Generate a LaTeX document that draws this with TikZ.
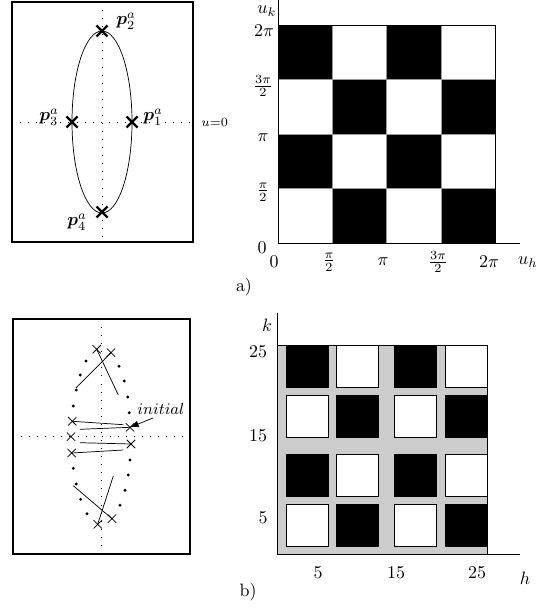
\documentclass[tikz,border=0pt]{standalone}
\usepackage{amsmath,amssymb,bm}
\usetikzlibrary{arrows.meta,shapes.misc}

\begin{document}
\begin{tikzpicture}[x=0.0196cm,y=-0.0196cm,
  bigx/.style={draw,cross out,line width=1.3pt,minimum size=1.7mm,inner sep=0pt},
  smallx/.style={draw,cross out,line width=0.4pt,minimum size=1.5mm,inner sep=0pt},
  frame/.style={line width=0.8pt},
  guide/.style={loosely dotted,line width=0.5pt}]
  \useasboundingbox (0,0) rectangle (555,608);
  % a) left: poles on the ellipse
  \draw[frame] (12,2) rectangle (193,242);
  \draw[guide] (102,2) -- (102,242);
  \draw[guide] (12,122) -- (193,122);
  \node[right,font=\scriptsize] (uzero) at (195,122) {$u{=}0$};
  \draw (102,122) ellipse (30 and 91);
  \node[bigx] (p1) at (132,122) {};
  \node[bigx] (p2) at (102,31) {};
  \node[bigx] (p3) at (72,122) {};
  \node[bigx] (p4) at (102,212) {};
  \node (lp1) at (153,117) {$\bm{p}_1^a$};
  \node (lp2) at (126,21) {$\bm{p}_2^a$};
  \node (lp3) at (49,117) {$\bm{p}_3^a$};
  \node (lp4) at (77,222) {$\bm{p}_4^a$};
  % a) right: checkerboard
  \foreach \i in {1,...,4}
    \foreach \j in {1,...,4} {
      \pgfmathtruncatemacro\s{\i+\j}
      \ifodd\s \def\cellcol{white}\else\def\cellcol{black}\fi
      \draw[black!40,very thin,fill=\cellcol] ({278+54.25*(\i-1)},{25+54.5*(\j-1)}) rectangle +(54.25,54.5);
    }
  \draw (278,25) -- (495,25) -- (495,243);
  \draw (278,0) -- (278,243) -- (520,243);
  \node[inner sep=1pt] (uk) at (267,11) {$u_k$};
  \node (ktwopi) at (264,31) {$2\pi$};
  \node (kthree) at (263,86) {$\frac{3\pi}{2}$};
  \node (kpi) at (263,138) {$\pi$};
  \node (khalf) at (263,192) {$\frac{\pi}{2}$};
  \node (kzero) at (262,248) {$0$};
  \node (hzero) at (274,262) {$0$};
  \node (hhalf) at (329,262) {$\frac{\pi}{2}$};
  \node (hpi) at (383,262) {$\pi$};
  \node (hthree) at (438,262) {$\frac{3\pi}{2}$};
  \node (htwopi) at (489,262) {$2\pi$};
  \node (uh) at (528,262) {$u_h$};
  \node (tagA) at (244,287) {a)};
  % b) left: iterates
  \draw[frame] (13,319) rectangle (190,554);
  \draw[guide] (101,319) -- (101,554);
  \draw[guide] (13,436) -- (190,436);
  \foreach \p in {(86,361),(80.3,375),(76.3,390),(73.3,406),(119,366.3),(124.3,381),
                  (127.7,397),(129.3,412.7),(130,460),(128.3,475),(125,490.3),(120,505.3),
                  (73.3,468.3),(76.3,484),(80.7,499.3),(87,513.7)}
    \fill \p circle (1.6);
  \node[smallx] (c1) at (96.7,349.3) {};
  \node[smallx] (c2) at (111,352.7) {};
  \node[smallx] (c3) at (72.3,421.3) {};
  \node[smallx] (c4) at (130,427.3) {};
  \node[smallx] (c5) at (71,436.7) {};
  \node[smallx] (c6) at (131,444) {};
  \node[smallx] (c7) at (71.7,453) {};
  \node[smallx] (c8) at (112,518.7) {};
  \node[smallx] (c9) at (97.7,524.3) {};
  \coordinate (e2) at (76,388);
  \coordinate (e1) at (118.3,395);
  \coordinate (e3) at (123.3,424.7);
  \coordinate (e4) at (80,429.3);
  \coordinate (e6) at (80,442.7);
  \coordinate (e7) at (123.3,450);
  \coordinate (e8) at (73.3,485.7);
  \coordinate (e9) at (113.3,476);
  \draw (e2) -- (c2.center);
  \draw (c1.center) -- (e1);
  \draw (c3.center) -- (e3);
  \draw (e4) -- (c4.center);
  \draw (e6) -- (c6.center);
  \draw (c7.center) -- (e7);
  \draw (e8) -- (c8.center);
  \draw (e9) -- (c9.center);
  \node[font=\small,inner sep=1pt] (initial) at (161,409) {$initial$};
  \coordinate (tail) at (153,418);
  \draw[-{Latex[length=1.7mm,width=1.3mm]}] (tail) -- (c4.center);
  % b) right: squares on grey
  \filldraw[fill=black!20,draw=black,thin] (277,345) rectangle (487,554);
  \foreach \x [count=\i] in {286,336,394.3,445}
    \foreach \y [count=\j] in {345.7,395.7,454,504} {
      \pgfmathtruncatemacro\s{\i+\j}
      \ifodd\s \def\cellcol{white}\else\def\cellcol{black}\fi
      \draw[thin,fill=\cellcol] (\x,\y) rectangle +(42,42);
    }
  \draw (277,313) -- (277,554) -- (520,554);
  \node (k) at (267,325) {$k$};
  \node (ktf) at (258,352) {$25$};
  \node (kf) at (258,436) {$15$};
  \node (kv) at (263,518) {$5$};
  \node (hv) at (318,573) {$5$};
  \node (hf) at (396,573) {$15$};
  \node (htf) at (477,573) {$25$};
  \node (h) at (525,578) {$h$};
  \node (tagB) at (248,592) {b)};
\end{tikzpicture}
\end{document}
